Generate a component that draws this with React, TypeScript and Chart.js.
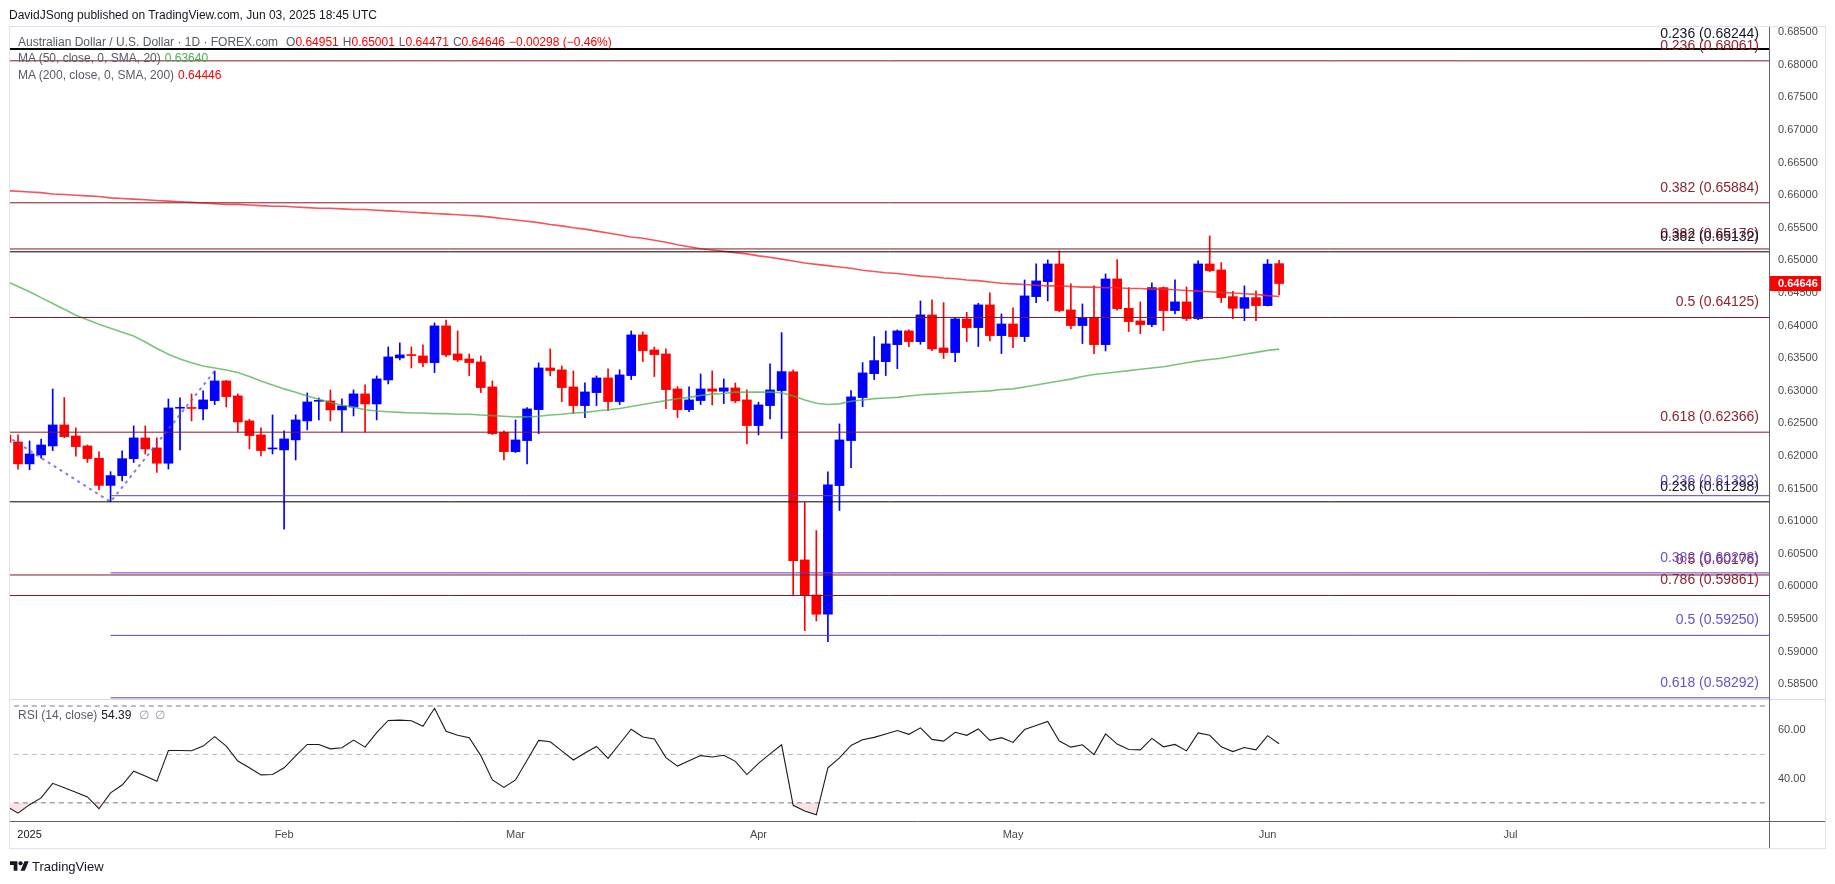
import React, { useEffect, useRef } from 'react';
import { Chart, registerables } from 'chart.js';

Chart.register(...registerables);

// ---------- data (daily bars, AUD/USD, FOREX.com) ----------
const dates = [
  '12-30','12-31','01-02','01-03','01-06','01-07','01-08','01-09','01-10','01-13','01-14','01-15','01-16','01-17','01-20','01-21','01-22','01-23','01-24','01-27','01-28','01-29','01-30','01-31',
  '02-03','02-04','02-05','02-06','02-07','02-10','02-11','02-12','02-13','02-14','02-17','02-18','02-19','02-20','02-21','02-24','02-25','02-26','02-27','02-28',
  '03-03','03-04','03-05','03-06','03-07','03-10','03-11','03-12','03-13','03-14','03-17','03-18','03-19','03-20','03-21','03-24','03-25','03-26','03-27','03-28','03-31',
  '04-01','04-02','04-03','04-04','04-07','04-08','04-09','04-10','04-11','04-14','04-15','04-16','04-17','04-18','04-21','04-22','04-23','04-24','04-25','04-28','04-29','04-30',
  '05-01','05-02','05-05','05-06','05-07','05-08','05-09','05-12','05-13','05-14','05-15','05-16','05-19','05-20','05-21','05-22','05-23','05-26','05-27','05-28','05-29','05-30',
  '06-02','06-03'
];

const openP = [
  0.6232, 0.62216, 0.6188, 0.62017, 0.62155, 0.62477, 0.62308, 0.62155, 0.61966, 0.6155,
  0.6170, 0.6196, 0.62278, 0.62125, 0.6189, 0.62733, 0.62740, 0.62723, 0.62850, 0.63152,
  0.62922, 0.62539, 0.62324, 0.62109, 0.62094, 0.62248, 0.62539, 0.62840, 0.62845, 0.62707,
  0.62753, 0.62953, 0.62799, 0.63167, 0.63505, 0.63551, 0.63535, 0.63433, 0.63996, 0.63566,
  0.63489, 0.63443, 0.63060, 0.62365, 0.62068, 0.62237, 0.62712, 0.63351, 0.63321, 0.63060,
  0.62774, 0.62973, 0.63198, 0.62835, 0.63234, 0.63858, 0.63627, 0.63566, 0.63029, 0.62712,
  0.62851, 0.63029, 0.62994, 0.63045, 0.62861, 0.62467, 0.62774, 0.63004, 0.63290, 0.60407,
  0.59870, 0.59574, 0.61547, 0.62237, 0.62897, 0.63264, 0.63448, 0.63709, 0.63919, 0.63755,
  0.64164, 0.63658, 0.63587, 0.64103, 0.63970, 0.64318, 0.63847, 0.64026, 0.63832, 0.64445,
  0.64675, 0.64946, 0.64241, 0.64001, 0.64128, 0.63709, 0.64716, 0.64266, 0.64072, 0.64016,
  0.64583, 0.64231, 0.64364, 0.64108, 0.64946, 0.64854, 0.64445, 0.64266, 0.64430, 0.64307,
  0.64951
];
const highP = [
  0.6245, 0.62324, 0.62232, 0.62262, 0.63029, 0.62897, 0.62431, 0.62170, 0.62063, 0.6176,
  0.62079, 0.62462, 0.62462, 0.62278, 0.62876, 0.62891, 0.62953, 0.62999, 0.63305, 0.63160,
  0.62953, 0.62564, 0.62431, 0.62631, 0.62385, 0.62631, 0.62968, 0.62891, 0.63014, 0.62876,
  0.63014, 0.63091, 0.63229, 0.63674, 0.63735, 0.63674, 0.63704, 0.64041, 0.64087, 0.63919,
  0.63566, 0.63535, 0.63152, 0.62385, 0.62554, 0.62743, 0.63428, 0.63643, 0.63382, 0.63305,
  0.63121, 0.63229, 0.63336, 0.63321, 0.63919, 0.63904, 0.63673, 0.63643, 0.63065, 0.63060,
  0.63259, 0.63305, 0.63183, 0.63121, 0.63014, 0.62825, 0.63413, 0.63893, 0.63321, 0.61286,
  0.60857, 0.61757, 0.62493, 0.63004, 0.63433, 0.63832, 0.63919, 0.63934, 0.63934, 0.64379,
  0.64394, 0.64353, 0.64128, 0.64205, 0.64343, 0.64502, 0.64180, 0.64272, 0.64701, 0.64946,
  0.65008, 0.65146, 0.64640, 0.64333, 0.64609, 0.64793, 0.65013, 0.64583, 0.64364, 0.64655,
  0.64594, 0.64701, 0.64594, 0.64992, 0.65376, 0.64967, 0.64527, 0.64609, 0.64532, 0.65013,
  0.65001
];
const lowP = [
  0.6210, 0.6180, 0.6179, 0.61966, 0.62084, 0.62283, 0.6200, 0.6190, 0.6148, 0.61298,
  0.6162, 0.6190, 0.6203, 0.6175, 0.6180, 0.62094, 0.62539, 0.62554, 0.62789, 0.62753,
  0.62365, 0.62109, 0.62002, 0.62032, 0.6088, 0.61941, 0.62401, 0.62554, 0.62539, 0.62365,
  0.62615, 0.62365, 0.62554, 0.63106, 0.63474, 0.63351, 0.63372, 0.63280, 0.63525, 0.63449,
  0.63234, 0.62973, 0.62329, 0.6194, 0.62053, 0.6188, 0.62344, 0.63234, 0.62835, 0.62651,
  0.62590, 0.62774, 0.62697, 0.62789, 0.63173, 0.63449, 0.63219, 0.62728, 0.62590, 0.62682,
  0.62789, 0.62784, 0.62805, 0.62820, 0.62186, 0.62324, 0.62569, 0.62268, 0.59870, 0.59323,
  0.59471, 0.59154, 0.61164, 0.61823, 0.62758, 0.63173, 0.63234, 0.63341, 0.63679, 0.63714,
  0.63617, 0.63495, 0.63448, 0.63755, 0.63679, 0.63765, 0.63571, 0.63663, 0.63755, 0.64353,
  0.64379, 0.64215, 0.63955, 0.63725, 0.63571, 0.63612, 0.64236, 0.63909, 0.63878, 0.63985,
  0.63924, 0.64180, 0.64077, 0.64093, 0.64829, 0.64353, 0.64108, 0.64077, 0.64077, 0.64302,
  0.64471
];
const closeP = [
  0.6221, 0.6188, 0.62032, 0.62170, 0.62477, 0.62298, 0.62145, 0.61961, 0.6155, 0.6170,
  0.6196, 0.62278, 0.62109, 0.6189, 0.62738, 0.62740, 0.62730, 0.62861, 0.63152, 0.62912,
  0.62523, 0.62314, 0.62084, 0.62118, 0.62263, 0.62554, 0.62830, 0.62845, 0.62707, 0.62768,
  0.62953, 0.62799, 0.63183, 0.63520, 0.63551, 0.63541, 0.63433, 0.63996, 0.63551, 0.63474,
  0.63433, 0.63050, 0.62344, 0.62068, 0.62247, 0.62723, 0.63351, 0.63311, 0.63050, 0.62774,
  0.62983, 0.63198, 0.62835, 0.63244, 0.63858, 0.63617, 0.63556, 0.63019, 0.62712, 0.62861,
  0.63029, 0.62994, 0.63045, 0.62846, 0.62467, 0.62784, 0.63014, 0.63295, 0.60397, 0.59865,
  0.59574, 0.61557, 0.62247, 0.62907, 0.63275, 0.63464, 0.63720, 0.63919, 0.63755, 0.64164,
  0.63643, 0.63587, 0.64103, 0.63970, 0.64318, 0.63847, 0.64026, 0.63832, 0.64456, 0.64686,
  0.64946, 0.64231, 0.64001, 0.64123, 0.63709, 0.64716, 0.64261, 0.64062, 0.64016, 0.64583,
  0.64231, 0.64364, 0.64108, 0.64946, 0.64844, 0.64430, 0.64266, 0.64430, 0.64307, 0.64944,
  0.64646
];

const ma50 = [
  0.6468, 0.6460, 0.6452, 0.6443, 0.6434, 0.6425, 0.6416, 0.6409, 0.6402, 0.6396,
  0.6390, 0.6384, 0.6375, 0.6365, 0.6356, 0.6349, 0.6343, 0.6338, 0.6335, 0.6332,
  0.6328, 0.6322, 0.6315, 0.6309, 0.6303, 0.6298, 0.6292, 0.6287, 0.6282, 0.6278,
  0.6275, 0.6271, 0.6269, 0.6268, 0.6267, 0.6266, 0.6266, 0.6265, 0.6265, 0.6264,
  0.6264, 0.6263, 0.6262, 0.6261, 0.6260, 0.6260, 0.6261, 0.6263, 0.6264, 0.6266,
  0.6267, 0.6269, 0.6271, 0.6273, 0.6276, 0.6279, 0.6282, 0.6285, 0.6288, 0.6290,
  0.6293, 0.6295, 0.6296, 0.6298, 0.6298, 0.6298, 0.6298, 0.6297, 0.6292, 0.6286,
  0.6281, 0.6279, 0.6280, 0.6284, 0.6286, 0.6288, 0.6289, 0.6290, 0.6292, 0.6294,
  0.6295, 0.6296, 0.6297, 0.6298, 0.6299, 0.6300, 0.6302, 0.6303, 0.6306, 0.6309,
  0.6312, 0.6315, 0.6318, 0.6322, 0.6325, 0.6327, 0.6329, 0.6331, 0.6333, 0.6335,
  0.6337, 0.6340, 0.6343, 0.6346, 0.6348, 0.6350, 0.6353, 0.6356, 0.6359, 0.6362,
  0.63640
];
const ma200 = [
  0.6607, 0.6606, 0.6605, 0.6604, 0.6602, 0.6601, 0.6600, 0.6599, 0.6598, 0.6596,
  0.6595, 0.6594, 0.6593, 0.6592, 0.6591, 0.6590, 0.6589, 0.6588, 0.6587, 0.6586,
  0.6586, 0.6585, 0.6584, 0.6583, 0.6583, 0.6582, 0.6581, 0.6580, 0.6580, 0.6579,
  0.6578, 0.6578, 0.6577, 0.6576, 0.6575, 0.6574, 0.6573, 0.6572, 0.6571, 0.6570,
  0.6569, 0.6568, 0.6566, 0.6564, 0.6562, 0.6560, 0.6558, 0.6555, 0.6553, 0.6550,
  0.6548, 0.6545, 0.6542, 0.6539, 0.6536, 0.6534, 0.6531, 0.6528, 0.6524, 0.6521,
  0.6518, 0.6516, 0.6514, 0.6512, 0.6510, 0.6507, 0.6505, 0.6502, 0.6499, 0.6496,
  0.6494, 0.6492, 0.6490, 0.6488, 0.6485, 0.6483, 0.6481, 0.6480, 0.6478, 0.6476,
  0.6475, 0.6473, 0.6472, 0.6470, 0.6469, 0.6467, 0.6465, 0.6464, 0.6463, 0.6462,
  0.6461, 0.6461, 0.6460, 0.6459, 0.6459, 0.6458, 0.6458, 0.6457, 0.6457, 0.6456,
  0.6456, 0.6455, 0.6454, 0.6453, 0.6452, 0.6451, 0.6450, 0.6449, 0.6448, 0.6446,
  0.64446
];
const rsi14 = [
  28.6, 25.75, 29.25, 32.04, 38.05, 36.24, 34.42, 32.46, 27.57, 34.14,
  37.35, 43.09, 41.13, 38.89, 51.61, 51.6, 51.5, 53.43, 57.34, 53.43,
  47.28, 44.48, 41.55, 41.69, 44.48, 49.37, 54.13, 54.1, 52.31, 52.73,
  55.94, 53.01, 59.02, 64.05, 64.19, 63.91, 61.67, 69.08, 59.58, 57.9,
  56.92, 49.51, 39.45, 36.38, 39.45, 47.56, 55.8, 55.24, 51.47, 47.7,
  50.63, 53.29, 48.4, 54.41, 60.41, 57.2, 56.36, 48.67, 45.18, 47.42,
  49.51, 48.95, 49.65, 47.14, 41.69, 46.3, 50.21, 53.99, 28.97, 26.59,
  25.05, 44.48, 48.54, 53.71, 56.08, 57.06, 58.46, 59.86, 58.32, 60.97,
  56.22, 55.52, 59.16, 57.9, 60.55, 55.8, 56.92, 54.96, 60.27, 61.95,
  63.63, 55.52, 53.01, 53.99, 49.93, 58.46, 54.27, 52.03, 51.89, 56.64,
  53.15, 54.13, 51.47, 58.88, 57.9, 53.15, 51.19, 52.87, 51.89, 57.76,
  54.39
];

// axis ticks
const priceTicks = [0.585, 0.59, 0.595, 0.6, 0.605, 0.61, 0.615, 0.62, 0.625, 0.63, 0.635, 0.64, 0.645, 0.65, 0.655, 0.66, 0.665, 0.67, 0.675, 0.68, 0.685];
const rsiTicks = [40, 60];
const rsiLevels = [70, 50, 30];
const xTickBars = [2, 24, 44, 65, 87, 109, 130];
const xTickLabels = ['2025', 'Feb', 'Mar', 'Apr', 'May', 'Jun', 'Jul'];

// Fibonacci drawings
const fibPrices = [0.68061, 0.65884, 0.65176, 0.64125, 0.62366, 0.60176, 0.59861, 0.61392, 0.60208, 0.5925, 0.58292, 0.68244, 0.65132, 0.61298];
const fibLabels = ['0.236 (0.68061)', '0.382 (0.65884)', '0.382 (0.65176)', '0.5 (0.64125)', '0.618 (0.62366)', '0.5 (0.60176)', '0.786 (0.59861)',
  '0.236 (0.61392)', '0.382 (0.60208)', '0.5 (0.59250)', '0.618 (0.58292)', '0.236 (0.68244)', '0.382 (0.65132)', '0.236 (0.61298)'];
const fibSets = ['red', 'red', 'red', 'red', 'red', 'red', 'red', 'purple', 'purple', 'purple', 'purple', 'black', 'black', 'black'];
const fibStartBar = [null, null, null, null, null, null, null, 9, 9, 9, 9, null, null, null];
const anchorBars = [0, 9, 18];
const anchorPrices = [0.6231, 0.61298, 0.63305];

// ---------- view / style ----------
const X_MIN = 0.3086;
const X_MAX = 152.34;
const UP = '#0000ff';
const DOWN = '#ff0000';
const FONT = '"Liberation Sans", Arial, Helvetica, sans-serif';
const FIB_LINE: any = { red: '#861722', purple: '#5e3fc4', black: '#000000' };
const FIB_TEXT: any = { red: '#8c2330', purple: '#6a4fcf', black: '#131722' };

const n = closeP.length;
const idx = closeP.map((_, i) => i);
const barColor = idx.map((i) => (closeP[i] >= openP[i] ? UP : DOWN));

const decorPlugin = {
  id: 'decor',
  beforeDraw(chart: any) {
    const { ctx } = chart;
    ctx.save();
    ctx.fillStyle = '#ffffff';
    ctx.fillRect(0, 0, chart.width, chart.height);
    ctx.restore();
  },
  afterDatasetsDraw(chart: any) {
    const { ctx, chartArea } = chart;
    const ys = chart.scales.y;
    ctx.save();
    ctx.beginPath();
    ctx.rect(chartArea.left, chartArea.top, chartArea.right - chartArea.left, ys.bottom - chartArea.top);
    ctx.clip();
    ctx.font = `14px ${FONT}`;
    ctx.textAlign = 'right';
    ctx.textBaseline = 'middle';
    fibPrices.forEach((p, j) => {
      ctx.fillStyle = FIB_TEXT[fibSets[j]];
      ctx.fillText(fibLabels[j], chartArea.right - 10, ys.getPixelForValue(p) - 15);
    });
    ctx.restore();
  },
  afterDraw(chart: any) {
    const { ctx, chartArea } = chart;
    const ys = chart.scales.y;
    const xs = chart.scales.x;
    const right = ys.right;
    ctx.save();
    // frame
    ctx.strokeStyle = '#e0e3eb';
    ctx.lineWidth = 1;
    ctx.strokeRect(chartArea.left - 0.5, chartArea.top - 0.5, right - chartArea.left + 1, xs.bottom - chartArea.top + 1);
    // pane separator
    ctx.beginPath();
    ctx.moveTo(chartArea.left, Math.round(ys.bottom) + 0.5);
    ctx.lineTo(right, Math.round(ys.bottom) + 0.5);
    ctx.strokeStyle = '#d6d9e0';
    ctx.stroke();
    // price axis line and time axis line
    ctx.strokeStyle = '#60636c';
    ctx.beginPath();
    ctx.moveTo(Math.round(chartArea.right) + 0.5, chartArea.top);
    ctx.lineTo(Math.round(chartArea.right) + 0.5, xs.bottom);
    ctx.moveTo(chartArea.left, Math.round(chartArea.bottom) + 0.5);
    ctx.lineTo(right, Math.round(chartArea.bottom) + 0.5);
    ctx.stroke();
    // last price label
    const last = closeP[n - 1];
    const py = ys.getPixelForValue(last);
    ctx.fillStyle = '#ff0000';
    ctx.fillRect(chartArea.right + 1, py - 7.5, 51, 15);
    ctx.fillStyle = '#ffffff';
    ctx.font = `bold 11px ${FONT}`;
    ctx.textAlign = 'left';
    ctx.textBaseline = 'middle';
    ctx.fillText(last.toFixed(5), chartArea.right + 9, py + 0.5);
    ctx.restore();
  }
};

export default function App() {
  const canvasRef = useRef<HTMLCanvasElement>(null);

  useEffect(() => {
    document.body.style.margin = '0';
    const canvas = canvasRef.current;
    if (!canvas) return;

    const fibDatasets = fibPrices.map((p, j) => ({
      type: 'line',
      yAxisID: 'y',
      data: [
        { x: fibStartBar[j] === null ? X_MIN - 2 : fibStartBar[j], y: p },
        { x: X_MAX + 2, y: p }
      ],
      borderColor: FIB_LINE[fibSets[j]],
      borderWidth: j === 11 ? 2 : 1,
      pointRadius: 0,
      order: -2
    }));

    const rsiLevelSets = rsiLevels.map((v) => ({
      type: 'line',
      yAxisID: 'rsi',
      data: [{ x: X_MIN - 2, y: v }, { x: X_MAX + 2, y: v }],
      borderColor: v === 50 ? '#b8bbc4' : '#787b86',
      borderWidth: 1,
      borderDash: [5, 4],
      pointRadius: 0,
      order: 5
    }));

    const chart = new Chart(canvas, {
      type: 'line',
      data: {
        datasets: [
          ...fibDatasets,
          {
            type: 'line',
            yAxisID: 'y',
            data: anchorBars.map((b, i) => ({ x: b, y: anchorPrices[i] })),
            borderColor: 'rgba(98, 80, 205, 0.75)',
            borderWidth: 2,
            borderDash: [3, 4],
            pointRadius: 0,
            order: -1
          },
          {
            type: 'line',
            yAxisID: 'y',
            data: idx.map((i) => ({ x: i, y: ma200[i] })),
            borderColor: 'rgba(242, 40, 50, 0.8)',
            borderWidth: 1.6,
            pointRadius: 0,
            order: 0
          },
          {
            type: 'line',
            yAxisID: 'y',
            data: idx.map((i) => ({ x: i, y: ma50[i] })),
            borderColor: 'rgba(76, 175, 80, 0.75)',
            borderWidth: 1.6,
            pointRadius: 0,
            order: 0
          },
          {
            type: 'bar',
            yAxisID: 'y',
            data: idx.map((i) => ({ x: i, y: [lowP[i], highP[i]] })),
            backgroundColor: barColor,
            barThickness: 1,
            grouped: false,
            order: 2
          },
          {
            type: 'bar',
            yAxisID: 'y',
            data: idx.map((i) => ({ x: i, y: [openP[i], closeP[i]] })),
            backgroundColor: barColor,
            barThickness: 9,
            minBarLength: 1,
            grouped: false,
            order: 1
          },
          ...rsiLevelSets,
          {
            type: 'line',
            yAxisID: 'rsi',
            data: idx.map((i) => ({ x: i, y: rsi14[i] })),
            borderColor: '#1a1a1a',
            borderWidth: 1.1,
            pointRadius: 0,
            fill: { target: { value: 30 }, above: 'rgba(0,0,0,0)', below: 'rgba(242, 54, 69, 0.14)' },
            order: 3
          }
        ] as any
      },
      options: {
        animation: false,
        responsive: false,
        devicePixelRatio: 1,
        layout: { padding: { left: 10, right: 10, top: 27, bottom: 36 } },
        plugins: {
          legend: { display: false },
          tooltip: { enabled: false }
        },
        scales: {
          x: {
            type: 'linear',
            min: X_MIN,
            max: X_MAX,
            offset: false,
            grid: { display: false, drawTicks: false },
            border: { display: false },
            afterBuildTicks: (s: any) => {
              s.ticks = xTickBars.map((v) => ({ value: v }));
            },
            afterFit: (s: any) => {
              s.height = 27;
            },
            ticks: {
              autoSkip: false,
              maxRotation: 0,
              minRotation: 0,
              padding: 7,
              font: { family: FONT, size: 11 },
              color: (c: any) => (c.index === 0 ? '#131722' : '#4a4a4a'),
              callback: (_v: any, i: number) => xTickLabels[i]
            }
          },
          y: {
            type: 'linear',
            position: 'right',
            stack: 'panes',
            stackWeight: 672,
            min: 0.58274,
            max: 0.6858,
            beginAtZero: false,
            grid: { display: false, drawTicks: false },
            border: { display: false },
            afterBuildTicks: (s: any) => {
              s.ticks = priceTicks.map((v) => ({ value: v }));
            },
            afterFit: (s: any) => {
              s.width = 56;
            },
            ticks: {
              padding: 9,
              font: { family: FONT, size: 11 },
              color: '#4a4a4a',
              callback: (v: any) => Number(v).toFixed(5)
            }
          },
          rsi: {
            type: 'linear',
            position: 'right',
            stack: 'panes',
            stackWeight: 122,
            min: 22.5,
            max: 72.9,
            beginAtZero: false,
            grid: { display: false, drawTicks: false },
            border: { display: false },
            afterBuildTicks: (s: any) => {
              s.ticks = rsiTicks.map((v) => ({ value: v }));
            },
            afterFit: (s: any) => {
              s.width = 56;
            },
            ticks: {
              padding: 9,
              font: { family: FONT, size: 11 },
              color: '#4a4a4a',
              callback: (v: any) => Number(v).toFixed(2)
            }
          }
        }
      } as any,
      plugins: [decorPlugin]
    });

    return () => chart.destroy();
  }, []);

  const lastO = openP[n - 1];
  const lastH = highP[n - 1];
  const lastL = lowP[n - 1];
  const lastC = closeP[n - 1];
  const chg = lastC - closeP[n - 2];
  const chgPct = (chg / closeP[n - 2]) * 100;
  const fmtSigned = (v: number, d: number) => (v < 0 ? '\u2212' : '+') + Math.abs(v).toFixed(d);
  const red = '#ff0000';
  const gray = '#555a64';

  const row = (top: number): React.CSSProperties => ({
    position: 'absolute',
    left: 18,
    top,
    font: `12px ${FONT}`,
    lineHeight: '14px',
    whiteSpace: 'pre',
    color: gray
  });

  return (
    <div style={{ position: 'relative', width: 1835, height: 884, background: '#ffffff', overflow: 'hidden' }}>
      <canvas ref={canvasRef} width={1835} height={884} style={{ position: 'absolute', left: 0, top: 0, width: 1835, height: 884 }} />
      <div style={{ position: 'absolute', left: 9, top: 8, font: `12px ${FONT}`, lineHeight: '14px', color: '#131722', whiteSpace: 'pre' }}>
        DavidJSong published on TradingView.com, Jun 03, 2025 18:45 UTC
      </div>
      <div style={row(35)}>
        <span>Australian Dollar / U.S. Dollar · 1D · FOREX.com</span>
        <span style={{ marginLeft: 8 }}>O<span style={{ color: red }}>{lastO.toFixed(5)}</span></span>
        <span style={{ marginLeft: 4 }}>H<span style={{ color: red }}>{lastH.toFixed(5)}</span></span>
        <span style={{ marginLeft: 4 }}>L<span style={{ color: red }}>{lastL.toFixed(5)}</span></span>
        <span style={{ marginLeft: 4 }}>C<span style={{ color: red }}>{lastC.toFixed(5)}</span></span>
        <span style={{ marginLeft: 4, color: red }}>{fmtSigned(chg, 5)} ({fmtSigned(chgPct, 2)}%)</span>
      </div>
      <div style={row(51)}>
        <span>MA (50, close, 0, SMA, 20)</span>
        <span style={{ marginLeft: 4, color: '#4caf50' }}>{ma50[n - 1].toFixed(5)}</span>
      </div>
      <div style={row(68)}>
        <span>MA (200, close, 0, SMA, 200)</span>
        <span style={{ marginLeft: 4, color: red }}>{ma200[n - 1].toFixed(5)}</span>
      </div>
      <div style={{ ...row(708) }}>
        <span>RSI (14, close)</span>
        <span style={{ marginLeft: 4, color: '#131722' }}>{rsi14[n - 1].toFixed(2)}</span>
        <span style={{ marginLeft: 8, color: '#9598a1' }}>∅</span>
        <span style={{ marginLeft: 6, color: '#9598a1' }}>∅</span>
      </div>
      <div style={{ position: 'absolute', left: 10, top: 859, display: 'flex', alignItems: 'center', gap: 3 }}>
        <svg width="19" height="15" viewBox="0 0 36 28">
          <path d="M14 22H7V11H0V4h14v18zM28 22h-8l7.5-18h8L28 22z" fill="#131722" />
          <circle cx="20" cy="8" r="4" fill="#131722" />
        </svg>
        <span style={{ font: `13px ${FONT}`, color: '#131722', lineHeight: '15px' }}>TradingView</span>
      </div>
    </div>
  );
}
